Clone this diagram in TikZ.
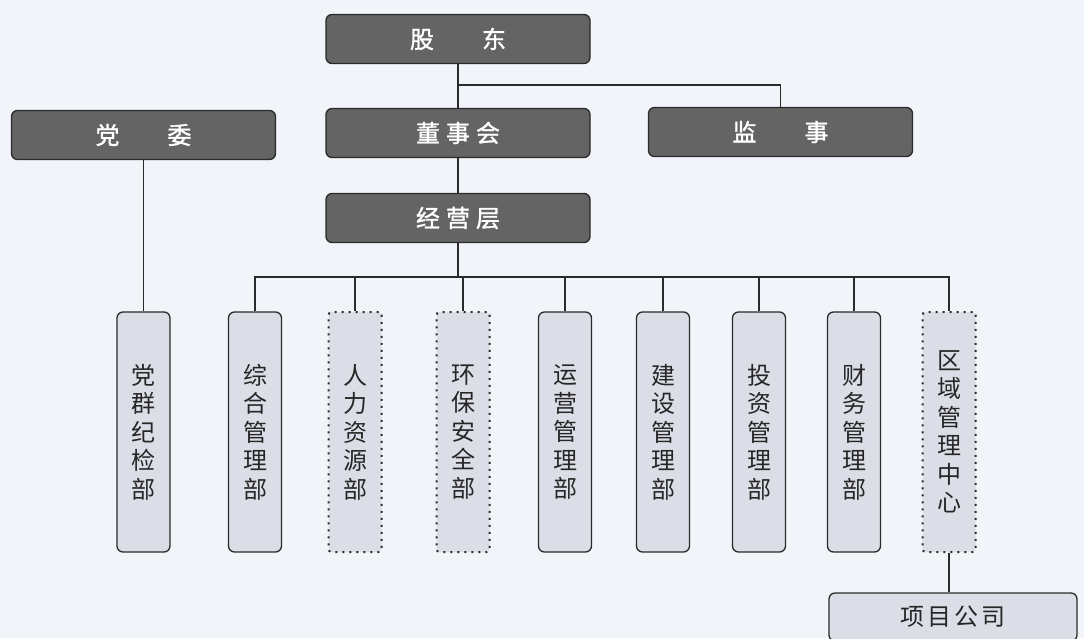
\documentclass[tikz,border=0pt]{standalone}
\usepackage{fontspec}
\newfontfamily\cjk{Noto Sans CJK SC}
\newfontfamily\cjkb[FakeBold=1.3]{Noto Sans CJK SC}
\definecolor{paper}{HTML}{F1F4F9}
\definecolor{darkbox}{HTML}{646464}
\definecolor{lightbox}{HTML}{DCDEE7}
\definecolor{rule}{HTML}{2A2A2A}
\tikzset{
    TopNode/.style = {rectangle, rounded corners=6pt, draw=rule, line width=1.3pt, fill=darkbox, text=white, minimum width=264pt, minimum height=49pt, inner sep=0pt, font=\cjkb\fontsize{24pt}{28pt}\selectfont}
}
\tikzset{
    DeptNode/.style = {rectangle, rounded corners=6pt, draw=rule, line width=1.3pt, fill=lightbox, text=black!85, minimum width=53pt, minimum height=240pt, inner sep=0pt, align=center, font=\cjk\fontsize{24pt}{28.5pt}\selectfont}
}
\tikzset{
    Edge/.style = {draw=rule, line width=1.3pt}
}
\begin{document}
\begin{tikzpicture}[
    x=1pt, y=-1pt
]
\tikzset{
    DotNode/.style = {DeptNode, rounded corners=3pt, line width=2pt, dash pattern=on 2pt off 5pt},
}
\useasboundingbox (0,0) rectangle (1084,638);
\fill[paper] (0,0) rectangle (1084,638);
\clip (0,0) rectangle (1084,638);
% top boxes
\node[TopNode] at (458,39) (gd) {股\quad\quad 东};
\node[TopNode] at (143.5,135) (dw) {党\quad\quad 委};
\node[TopNode] at (458,133) (dsh) {董\kern6pt 事\kern6pt 会};
\node[TopNode] at (780.5,132) (jsh) {监\quad\quad 事};
\node[TopNode] at (458,218) (jyc) {经\kern6pt 营\kern6pt 层};
% departments
\node[DeptNode] at (143.5,432) (dq) {党\\群\\纪\\检\\部};
\node[DeptNode] at (255,432) (zh) {综\\合\\管\\理\\部};
\node[DotNode] at (355,432) (rl) {人\\力\\资\\源\\部};
\node[DotNode] at (463,432) (hb) {环\\保\\安\\全\\部};
\node[DeptNode] at (565,432) (yy) {运\\营\\管\\理\\部};
\node[DeptNode] at (663,432) (jsgl) {建\\设\\管\\理\\部};
\node[DeptNode] at (759,432) (tz) {投\\资\\管\\理\\部};
\node[DeptNode] at (854,432) (cw) {财\\务\\管\\理\\部};
\node[DotNode] at (949,432) (qy) {区\\域\\管\\理\\中\\心};
\node[DeptNode, minimum width=248pt, minimum height=48pt] at (953,617) (xm) {项\kern3pt 目\kern3pt 公\kern3pt 司};
% connectors
\coordinate (gdjoin) at (458,85);
\coordinate (bus) at (458,277);
\path (gd) edge [Edge] (dsh);
\path (dsh) edge [Edge] (jyc);
\draw[Edge] (gdjoin) -| (jsh.north);
\path (dw) edge [Edge] (dq);
\path (jyc) edge [Edge] (bus);
\foreach \d in {zh, rl, hb, yy, jsgl, tz, cw, qy}
    \draw[Edge] (bus) -| (\d.north);
\draw[Edge] (qy.south) -- (qy.south |- xm.north);
\end{tikzpicture}
\end{document}
